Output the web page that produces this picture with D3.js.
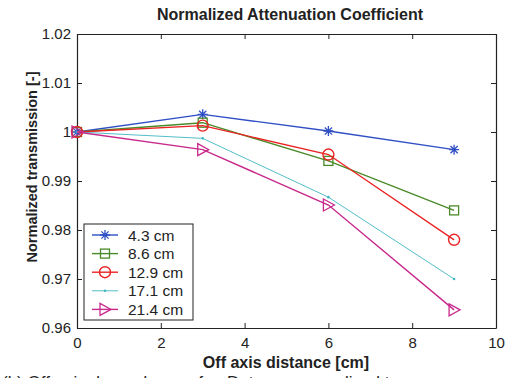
<!DOCTYPE html>
<html>
<head>
<meta charset="utf-8">
<script src="https://cdn.jsdelivr.net/npm/d3@7"></script>
<style>
  body { margin: 0; background: #fff; }
  text { font-family: "Liberation Sans", Arial, sans-serif; }
</style>
</head>
<body>
<div id="chart"></div>
<script>
// Data
let distances = [0, 3, 6, 9]
let seriesNames = ['4.3 cm', '8.6 cm', '12.9 cm', '17.1 cm', '21.4 cm']
let s43 = [1.0, 1.0036, 1.0002, 0.9964]
let s86 = [1.0, 1.0019, 0.9941, 0.9840]
let s129 = [1.0, 1.0013, 0.9954, 0.9780]
let s171 = [1.0, 0.9987, 0.9867, 0.9700]
let s214 = [1.0, 0.9964, 0.9851, 0.9637]
let xTicks = [0, 2, 4, 6, 8, 10]
let yTicks = [0.96, 0.97, 0.98, 0.99, 1, 1.01, 1.02]

let colors = ['#2f4fc4', '#4b8a2a', '#ea2323', '#3fb6c2', '#c82a8c']
let markers = ['star', 'square', 'circle', 'point', 'triangle']
let allSeries = [s43, s86, s129, s171, s214]

let margin = { top: 34, left: 77, right: 19, bottom: 50 }
let width = 515 - margin.left - margin.right
let height = 378 - margin.top - margin.bottom

let svg = d3.select('#chart')
  .append('svg')
  .attr('width', 515)
  .attr('height', 378)

let g = svg.append('g')
  .attr('transform', `translate(${margin.left},${margin.top})`)

let x = d3.scaleLinear().domain([0, 10]).range([0, width])
let y = d3.scaleLinear().domain([0.96, 1.02]).range([height, 0])

// axes with inward ticks, box style
let fmt = d => (d === 1 ? '1' : d3.format('.2f')(d))
g.append('g')
  .attr('transform', `translate(0,${height})`)
  .call(d3.axisBottom(x).tickValues(xTicks).tickSizeInner(-5).tickSizeOuter(0).tickPadding(9))
g.append('g')
  .call(d3.axisTop(x).tickValues(xTicks).tickSizeInner(-5).tickSizeOuter(0).tickFormat(''))
g.append('g')
  .call(d3.axisLeft(y).tickValues(yTicks).tickFormat(fmt).tickSizeInner(-5).tickSizeOuter(0).tickPadding(6))
g.append('g')
  .attr('transform', `translate(${width},0)`)
  .call(d3.axisRight(y).tickValues(yTicks).tickSizeInner(-5).tickSizeOuter(0).tickFormat(''))

g.selectAll('.domain').attr('stroke', '#222').attr('stroke-width', 1.2)
g.selectAll('.tick line').attr('stroke', '#222')
g.selectAll('.tick text').attr('font-size', 15).attr('fill', '#222')
  .attr('font-family', '"Liberation Sans", Arial, sans-serif')

function drawMarker(sel, type, color) {
  if (type === 'star') {
    sel.append('path')
      .attr('d', 'M-5,0L5,0M0,-5L0,5M-3.6,-3.6L3.6,3.6M-3.6,3.6L3.6,-3.6')
      .attr('stroke', color).attr('stroke-width', 1.3).attr('fill', 'none')
  } else if (type === 'square') {
    sel.append('rect').attr('x', -4.5).attr('y', -4.5).attr('width', 9).attr('height', 9)
      .attr('stroke', color).attr('stroke-width', 1.3).attr('fill', 'none')
  } else if (type === 'circle') {
    sel.append('circle').attr('r', 5.5)
      .attr('stroke', color).attr('stroke-width', 1.4).attr('fill', 'none')
  } else if (type === 'point') {
    sel.append('circle').attr('r', 1.3).attr('fill', color)
  } else {
    sel.append('path').attr('d', 'M-5,-6L6,0L-5,6Z')
      .attr('stroke', color).attr('stroke-width', 1.3).attr('fill', 'none')
  }
}

let line = d3.line()
  .x(d => x(d.x))
  .y(d => y(d.y))

allSeries.forEach((vals, i) => {
  let pts = vals.map((v, j) => ({ x: distances[j], y: v }))
  g.append('path')
    .datum(pts)
    .attr('d', line)
    .attr('fill', 'none')
    .attr('stroke', colors[i])
    .attr('stroke-width', i === 3 ? 0.9 : 1.4)
  pts.forEach(p => {
    let m = g.append('g').attr('transform', `translate(${x(p.x)},${y(p.y)})`)
    drawMarker(m, markers[i], colors[i])
  })
})

// legend
let legend = g.append('g').attr('transform', 'translate(7,190)')
legend.append('rect')
  .attr('width', 109).attr('height', 96)
  .attr('fill', '#fff').attr('stroke', '#222').attr('stroke-width', 1)
seriesNames.forEach((name, i) => {
  let row = legend.append('g').attr('transform', `translate(0,${11 + i * 18.6})`)
  row.append('line').attr('x1', 8).attr('x2', 34)
    .attr('stroke', colors[i]).attr('stroke-width', i === 3 ? 0.9 : 1.4)
  let m = row.append('g').attr('transform', 'translate(21,0)')
  drawMarker(m, markers[i], colors[i])
  row.append('text').attr('x', 44).attr('y', 5.5)
    .attr('font-size', 15.5).attr('fill', '#222').text(name)
})

// titles
svg.append('text')
  .attr('x', 290).attr('y', 20)
  .attr('text-anchor', 'middle')
  .attr('font-size', 16).attr('font-weight', 'bold').attr('fill', '#222')
  .text('Normalized Attenuation Coefficient')

svg.append('text')
  .attr('x', 286).attr('y', 368)
  .attr('text-anchor', 'middle')
  .attr('font-size', 16).attr('font-weight', 'bold').attr('fill', '#222')
  .text('Off axis distance [cm]')

svg.append('text')
  .attr('transform', 'translate(37,167) rotate(-90)')
  .attr('text-anchor', 'middle')
  .attr('font-size', 14.5).attr('font-weight', 'bold').attr('fill', '#222')
  .text('Normalized transmission [-]')

// partially visible caption below (cut off in the original as well)
svg.append('text')
  .attr('x', 2).attr('y', 388)
  .attr('font-family', '"Liberation Serif", serif')
  .attr('font-size', 17).attr('fill', '#222')
  .text('(b) Off-axis dependence of μ. Data are normalized to')
</script>
</body>
</html>
